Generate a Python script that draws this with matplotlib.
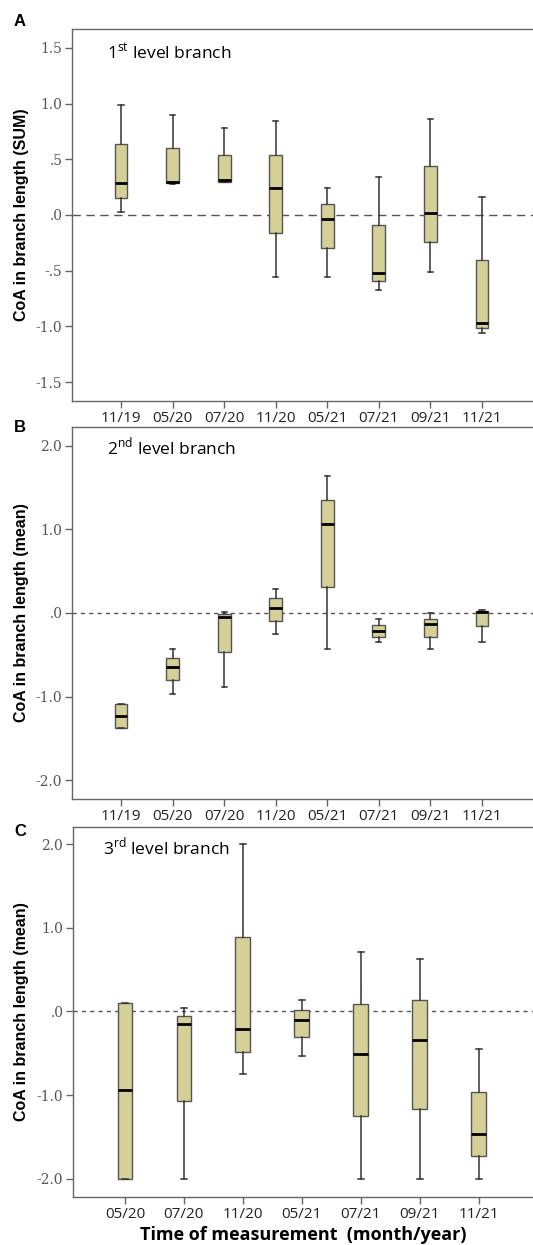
import numpy as np
import matplotlib
matplotlib.use("Agg")
import matplotlib.pyplot as plt

plt.rcParams['mathtext.fontset'] = 'custom'
plt.rcParams['mathtext.rm'] = 'Open Sans'

# ---------------- данные ----------------
dates_ab = ["11/19", "05/20", "07/20", "11/20", "05/21", "07/21", "09/21", "11/21"]
dates_c = ["05/20", "07/20", "11/20", "05/21", "07/21", "09/21", "11/21"]

# панель A: 1st level branch (SUM)
a_low = [0.03, 0.28, 0.30, -0.56, -0.56, -0.67, -0.515, -1.06]
a_q1 = [0.155, 0.285, 0.30, -0.16, -0.30, -0.595, -0.245, -1.017]
a_med = [0.285, 0.30, 0.31, 0.24, -0.04, -0.518, 0.02, -0.972]
a_q3 = [0.635, 0.60, 0.54, 0.54, 0.10, -0.087, 0.44, -0.407]
a_high = [0.987, 0.90, 0.78, 0.847, 0.24, 0.344, 0.859, 0.164]

# панель B: 2nd level branch (mean)
b_low = [-1.38, -0.967, -0.879, -0.255, -0.435, -0.351, -0.432, -0.344]
b_q1 = [-1.38, -0.80, -0.464, -0.10, 0.315, -0.288, -0.284, -0.156]
b_med = [-1.23, -0.644, -0.044, 0.064, 1.063, -0.212, -0.136, 0.016]
b_q3 = [-1.083, -0.543, -0.012, 0.176, 1.351, -0.144, -0.072, 0.024]
b_high = [-1.083, -0.435, 0.016, 0.288, 1.634, -0.076, 0.0, 0.032]

# панель C: 3rd level branch (mean)
c_low = [-2.0, -2.0, -0.746, -0.531, -2.0, -2.0, -2.0]
c_q1 = [-2.0, -1.07, -0.483, -0.311, -1.256, -1.169, -1.731]
c_med = [-0.945, -0.148, -0.212, -0.108, -0.511, -0.343, -1.468]
c_q3 = [0.103, -0.053, 0.892, 0.012, 0.091, 0.139, -0.961]
c_high = [0.103, 0.043, 2.0, 0.135, 0.706, 0.63, -0.455]

W, H = 533, 1245
fig = plt.figure(figsize=(W / 100, H / 100), dpi=100)

box_color = "#D5D097"
edge_color = "#555555"
spine_color = "#666666"


def make_axes(left, top, bottom):
    return fig.add_axes([left / W, 1 - bottom / H, 1 - left / W, (bottom - top) / H])


def panel(ax, labels, low, q1, med, q3, high, ylim, yticks, yticklabels, xlim, dash, ylabel):
    stats = []
    for i in range(len(labels)):
        stats.append({"whislo": low[i], "q1": q1[i], "med": med[i], "q3": q3[i],
                      "whishi": high[i], "fliers": []})
    pos = np.arange(1, len(labels) + 1)
    ax.axhline(0, color="#555555", lw=1.0, ls=dash, zorder=1)
    ax.bxp(stats, positions=pos, widths=0.25, patch_artist=True, showfliers=False,
           boxprops=dict(facecolor=box_color, edgecolor=edge_color, lw=1.0),
           medianprops=dict(color="black", lw=2.0),
           whiskerprops=dict(color="#333333", lw=1.1),
           capprops=dict(color="#333333", lw=1.1), capwidths=0.1, zorder=3)
    ax.set_xlim(xlim)
    ax.set_ylim(ylim)
    ax.set_xticks(pos)
    ax.set_xticklabels(labels, fontsize=11, family="Open Sans", color="#222222")
    ax.set_yticks(yticks)
    ax.set_yticklabels(yticklabels, fontsize=10, family="DejaVu Serif", color="#555555")
    ax.spines["right"].set_visible(False)
    for s in ["left", "bottom", "top"]:
        ax.spines[s].set_color(spine_color)
        ax.spines[s].set_linewidth(1.0)
    ax.tick_params(axis="both", length=5, width=1.0, color=spine_color, pad=2)
    ax.set_ylabel(ylabel, fontsize=11.5, fontweight="bold", family="Liberation Sans")
    left_px = ax.get_position().x0 * W
    ax.yaxis.set_label_coords((29 - left_px) / (W - left_px), 0.5)


# ---------------- A ----------------
axA = make_axes(72, 29, 401)
panel(axA, dates_ab, a_low, a_q1, a_med, a_q3, a_high, (-1.67, 1.67),
      [-1.5, -1.0, -0.5, 0, 0.5, 1.0, 1.5],
      ["-1.5", "-1.0", "-.5", ".0", ".5", "1.0", "1.5"], (0.05, 8.99), (0, (6, 4)),
      "CoA in branch length (SUM)")
axA.text(0.075, 0.935, r"1$^{\mathrm{st}}$ level branch", transform=axA.transAxes,
         fontsize=12.5, family="Open Sans", va="center")

# ---------------- B ----------------
axB = make_axes(72, 427, 799)
panel(axB, dates_ab, b_low, b_q1, b_med, b_q3, b_high, (-2.224, 2.224),
      [-2.0, -1.0, 0, 1.0, 2.0], ["-2.0", "-1.0", ".0", "1.0", "2.0"], (0.05, 8.99),
      (0, (3, 3)), "CoA in branch length (mean)")
axB.text(0.075, 0.945, r"2$^{\mathrm{nd}}$ level branch", transform=axB.transAxes,
         fontsize=12.5, family="Open Sans", va="center")

# ---------------- C ----------------
axC = make_axes(73, 827, 1197)
panel(axC, dates_c, c_low, c_q1, c_med, c_q3, c_high, (-2.22, 2.207),
      [-2.0, -1.0, 0, 1.0, 2.0], ["-2.0", "-1.0", ".0", "1.0", "2.0"], (0.12, 7.92),
      (0, (3, 3)), "CoA in branch length (mean)")
axC.text(0.065, 0.945, r"3$^{\mathrm{rd}}$ level branch", transform=axC.transAxes,
         fontsize=12.5, family="Open Sans", va="center")
axC.set_xlabel("Time of measurement  (month/year)", fontsize=13, fontweight="bold",
               family="Open Sans", labelpad=3)

# подписи панелей
for letter, y in [("A", 22), ("B", 427), ("C", 831)]:
    fig.text(20 / W, 1 - y / H, letter, fontsize=12, fontweight="bold",
             family="Liberation Sans", ha="center", va="center")

fig.savefig("out.png", dpi=100)
